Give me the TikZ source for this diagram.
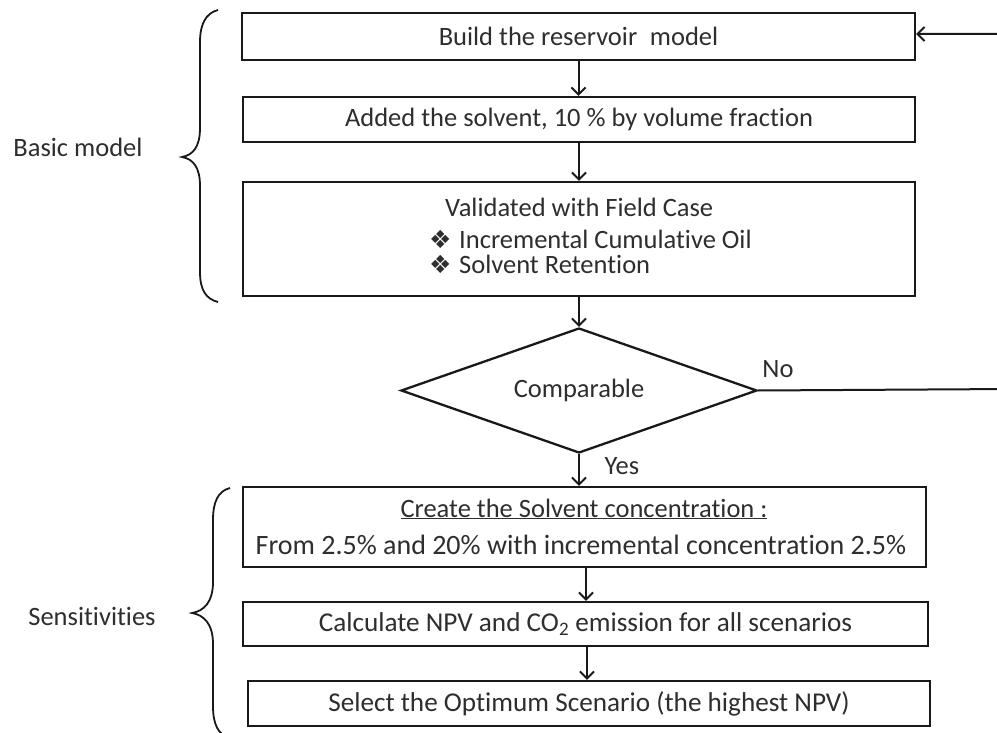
\documentclass[tikz,border=0pt]{standalone}
\usepackage{fontspec}
\setmainfont{Carlito}[Ligatures=NoCommon]
\newfontfamily\symfont{DejaVu Sans}
\usetikzlibrary{shapes.geometric,arrows.meta,calc}
\begin{document}
\begin{tikzpicture}[x=1pt,y=-1pt,
  font=\fontsize{26.5}{31}\selectfont,
  box/.style={draw=black!90, line width=2.3pt, inner sep=0pt, text=black!82},
  txt/.style={inner sep=0pt, text=black!82},
  conn/.style={draw=black!90, line width=2pt, -{Straight Barb[length=7pt,width=14pt,line width=2pt]}},
  bracepath/.style={draw=black!90, line width=1.8pt},
  bul/.style={inner sep=0pt, text=black!82, font=\symfont\fontsize{25}{28}\selectfont}]
\useasboundingbox[fill=white] (0,0) rectangle (997,733);

% boxes
\node[box, minimum width=673pt, minimum height=47pt] (b1) at (578.5,36.5) {Build the reservoir\hspace{0.25em} model};
\node[box, minimum width=672pt, minimum height=45pt] (b2) at (579,119.5) {Added the solvent, 10 \% by volume fraction};
\node[box, minimum width=672pt, minimum height=114pt] (b3) at (579,239) {};
\node[txt, anchor=base west] (t3a) at (445,217) {Validated with Field Case};
\node[bul, anchor=base west] (u1) at (429,248) {❖};
\node[txt, anchor=base west] (t3b) at (459,248) {Incremental Cumulative Oil};
\node[bul, anchor=base west] (u2) at (429,273) {❖};
\node[txt, anchor=base west] (t3c) at (459,273) {Solvent Retention};

\node[draw=black!90, diamond, aspect=2.85, minimum width=356pt, minimum height=125pt, inner sep=0pt, line width=2.3pt, text=black!82] (dia) at (579,390.5) {Comparable};

\node[box, minimum width=683pt, minimum height=80pt] (b4) at (584.5,527) {};
\node[txt, anchor=base] (t4a) at (584,517) {\underline{Create the Solvent concentration :}};
\node[txt, anchor=base, font=\fontsize{28}{32}\selectfont] (t4b) at (581,554) {From 2.5\% and 20\% with incremental concentration 2.5\%};
\node[box, minimum width=685pt, minimum height=44pt, font=\fontsize{27.2}{32}\selectfont] (b5) at (585.5,624) {Calculate NPV and CO\textsubscript{2} emission for all scenarios};
\node[box, minimum width=682pt, minimum height=45pt, font=\fontsize{27.2}{32}\selectfont] (b6) at (589,703.5) {Select the Optimum Scenario (the highest NPV)};

% labels
\node[txt, anchor=base] (lbasic) at (78,157) {Basic model};
\node[txt, anchor=base] (lsens) at (92,625) {Sensitivities};
\node[txt, anchor=base] (lno) at (778,377) {No};
\node[txt, anchor=base] (lyes) at (622,474) {Yes};

% connectors
\draw[conn] (b1.south) -- (b1.south |- b2.north);
\draw[conn] (b2.south) -- (b2.south |- b3.north);
\draw[conn] (b3.south) -- (b3.south |- dia.north);
\draw[conn] (dia.south) -- (dia.south |- b4.north);
\draw[conn] ($(b4.south)+(1.5,0)$) -- ($(b4.south |- b5.north)+(1.5,0)$);
\draw[conn] ($(b5.south)+(1.5,0)$) -- ($(b5.south |- b6.north)+(1.5,0)$);
\coordinate (fb1) at (1012,389);
\coordinate (fb2) at (1012,34);
\draw[conn] (dia.east) -- (fb1) -- (fb2) -- (fb2 -| b1.east);

% braces
\draw[bracepath] (218,10) .. controls (206,13) and (200,24) .. (200,42) -- (200,128)
  .. controls (200,147) and (193,155) .. (182,157)
  .. controls (193,159) and (200,167) .. (200,186) -- (200,272)
  .. controls (200,290) and (206,299) .. (218,302);
\draw[bracepath] (230,488) .. controls (218,491) and (213,502) .. (213,520) -- (213,582)
  .. controls (213,602) and (204,611) .. (192,613)
  .. controls (204,615) and (213,624) .. (213,644) -- (213,706)
  .. controls (213,724) and (218,735) .. (230,738);
\end{tikzpicture}
\end{document}
